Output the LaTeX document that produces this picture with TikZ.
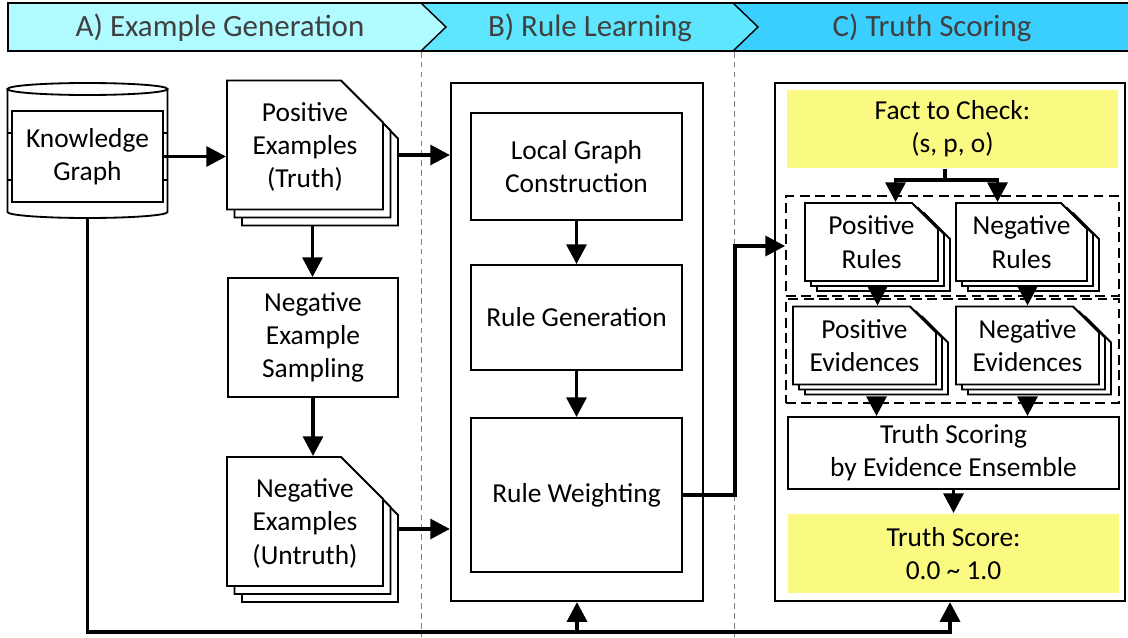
\documentclass[tikz,border=0pt]{standalone}
\usepackage{fontspec}
\setmainfont{Carlito}
\usetikzlibrary{shapes.misc, shadows, arrows.meta}

\newdimen\pxu \pxu=0.025cm

\definecolor{stageA}{RGB}{176,251,255}
\definecolor{stageB}{RGB}{94,230,255}
\definecolor{stageC}{RGB}{58,207,255}
\definecolor{hilite}{RGB}{250,250,130}
\definecolor{headtext}{RGB}{64,64,64}

\tikzstyle{stage} = [draw=black, line width=1pt]
\tikzstyle{stagetext} = [text=headtext, font=\fontsize{22}{26}\selectfont]
\tikzstyle{box} = [rectangle, draw, line width=1.3pt, fill=white, inner sep=0pt, align=center, font=\fontsize{19.5}{23.5}\selectfont]
\tikzstyle{panel} = [rectangle, draw, line width=1.5pt, inner sep=0pt]
\tikzstyle{group} = [rectangle, draw, line width=1.2pt, dash pattern=on 7pt off 4pt, inner sep=0pt]
\tikzstyle{result} = [box, draw=none, fill=hilite]
\tikzstyle{bigdoc} = [box, chamfered rectangle, chamfered rectangle corners=north east,
    chamfered rectangle xsep=20\pxu, chamfered rectangle ysep=22\pxu,
    copy shadow={shadow xshift=15\pxu, shadow yshift=-16\pxu},
    copy shadow={shadow xshift=7.5\pxu, shadow yshift=-8\pxu},
    text depth=-14pt]
\tikzstyle{smalldoc} = [box, chamfered rectangle, chamfered rectangle corners=north east,
    chamfered rectangle xsep=13\pxu, chamfered rectangle ysep=13\pxu,
    copy shadow={shadow xshift=12\pxu, shadow yshift=-10\pxu},
    copy shadow={shadow xshift=6\pxu, shadow yshift=-5\pxu},
    text depth=-6pt]
\tikzstyle{arrow} = [line width=2.8pt, -{Triangle[length=14pt,width=14pt]}]
\tikzstyle{line} = [line width=2.8pt]
\tikzstyle{divider} = [gray, line width=0.6pt, dash pattern=on 4pt off 3pt]

\begin{document}
\begin{tikzpicture}[x=0.025cm, y=-0.025cm]
    \useasboundingbox (0,0) rectangle (1128,637);

    % stage banner
    \fill[stageA] (8,3) -- (421,3) -- (446,27) -- (421,51) -- (8,51) -- cycle;
    \fill[stageB] (421,3) -- (733,3) -- (758,27) -- (733,51) -- (421,51) -- (446,27) -- cycle;
    \fill[stageC] (733,3) -- (1130,3) -- (1130,51) -- (733,51) -- (758,27) -- cycle;
    \draw[stage] (1130,3) -- (8,3) -- (8,51) -- (1130,51);
    \draw[stage] (421,3) -- (446,27) -- (421,51);
    \draw[stage] (733,3) -- (758,27) -- (733,51);
    \node[stagetext] (stagea) at (220,28) {A) Example Generation};
    \node[stagetext] (stageb) at (590,28) {B) Rule Learning};
    \node[stagetext] (stagec) at (932,28) {C) Truth Scoring};

    \draw[divider] (421,52) -- (421,637);
    \draw[divider] (734,52) -- (734,637);

    % knowledge graph drum
    \draw[line width=1.3pt, fill=white] (7.5,89) -- (7.5,212)
        arc[start angle=180, end angle=360, x radius=80\pxu, y radius=6\pxu] -- (167.5,89);
    \draw[line width=1.3pt, fill=white] (87.5,89) ellipse [x radius=80\pxu, y radius=6\pxu];
    \draw[line width=1.3pt] (7.5,133) -- (12,133) (7.5,180) -- (12,180)
        (163,133) -- (167.5,133) (163,180) -- (167.5,180);
    \node[box, minimum width=151\pxu, minimum height=91\pxu] (kg) at (87.5,156.5) {Knowledge\\Graph};

    % A) example generation
    \node[bigdoc, minimum width=156\pxu, minimum height=124\pxu] (posex) at (305,145) {Positive\\Examples\\(Truth)};
    \node[box, minimum width=170\pxu, minimum height=119\pxu] (negsamp) at (313,337.5) {Negative\\Example\\Sampling};
    \node[bigdoc, minimum width=156\pxu, minimum height=123\pxu] (negex) at (305,521.5) {Negative\\Examples\\(Untruth)};

    % B) rule learning
    \node[panel, minimum width=252\pxu, minimum height=518\pxu] (rulebox) at (577,342) {};
    \node[box, minimum width=211\pxu, minimum height=107\pxu] (lgc) at (576.5,166.5) {Local Graph\\Construction};
    \node[box, minimum width=211\pxu, minimum height=105\pxu] (rgen) at (576.5,317.5) {Rule Generation};
    \node[box, minimum width=211\pxu, minimum height=154\pxu] (rweight) at (576.5,495) {Rule Weighting};

    % C) truth scoring
    \node[panel, minimum width=350\pxu, minimum height=518\pxu] (scorebox) at (950,342) {};
    \node[result, minimum width=331\pxu, minimum height=78\pxu] (fact) at (952.5,129) {Fact to Check:\\(s, p, o)};
    \node[group, minimum width=333\pxu, minimum height=100\pxu] (rulegrp) at (952.5,246) {};
    \node[group, minimum width=333\pxu, minimum height=104\pxu] (evgrp) at (952.5,351) {};
    \node[smalldoc, minimum width=133\pxu, minimum height=70\pxu] (posrule) at (871.5,242) {Positive\\Rules};
    \node[smalldoc, minimum width=131\pxu, minimum height=70\pxu] (negrule) at (1021.5,242) {Negative\\Rules};
    \node[smalldoc, minimum width=143\pxu, minimum height=75\pxu] (posev) at (864.5,345.5) {Positive\\Evidences};
    \node[smalldoc, minimum width=143\pxu, minimum height=75\pxu] (negev) at (1027.5,345.5) {Negative\\Evidences};
    \node[box, minimum width=331\pxu, minimum height=72\pxu] (tsbox) at (953.5,453) {Truth Scoring\\by Evidence Ensemble};
    \node[result, minimum width=331\pxu, minimum height=79\pxu] (tscore) at (953.5,553.5) {Truth Score:\\0.0 \textasciitilde{} 1.0};

    \coordinate (split) at (945,180);
    \coordinate (bus) at (0,632);

    \draw [arrow] (kg.east) -- (kg.east -| posex.west);
    \draw [arrow] ([xshift=15\pxu, yshift=-10\pxu]posex.east) -- ([yshift=-10\pxu]posex.east -| rulebox.west);
    \draw [arrow] ([xshift=7.5\pxu, yshift=-16\pxu]posex.south) -- ([xshift=7.5\pxu]posex.south |- negsamp.north);
    \draw [arrow] (negsamp.south) -- (negsamp.south |- negex.north);
    \draw [arrow] ([xshift=15\pxu, yshift=-7.5\pxu]negex.east) -- ([yshift=-7.5\pxu]negex.east -| rulebox.west);
    \draw [arrow] (lgc) -- (rgen);
    \draw [arrow] (rgen) -- (rweight);
    \draw [arrow] (rweight.east) -- ++(52,0) |- (rulegrp.west);
    \draw [line] (fact.south -| split) -- (split);
    \draw [arrow] (split) -| ([xshift=24\pxu]posrule.north);
    \draw [arrow] (split) -| ([xshift=-24\pxu]negrule.north);
    \draw [arrow] ([xshift=6\pxu, yshift=-10\pxu]posrule.south) -- ([xshift=6\pxu]posrule.south |- posev.north);
    \draw [arrow] ([xshift=6\pxu, yshift=-10\pxu]negrule.south) -- ([xshift=6\pxu]negrule.south |- negev.north);
    \draw [arrow] ([xshift=12\pxu, yshift=-12\pxu]posev.south) -- ([xshift=12\pxu]posev.south |- tsbox.north);
    \draw [arrow] ([yshift=-12\pxu]negev.south) -- (negev.south |- tsbox.north);
    \draw [arrow] (tsbox) -- (tscore);
    \draw [arrow] ([yshift=-16\pxu]kg.south) -- (kg.south |- bus) -| (scorebox.south);
    \draw [arrow] (rulebox.south |- bus) -- (rulebox.south);
\end{tikzpicture}
\end{document}
